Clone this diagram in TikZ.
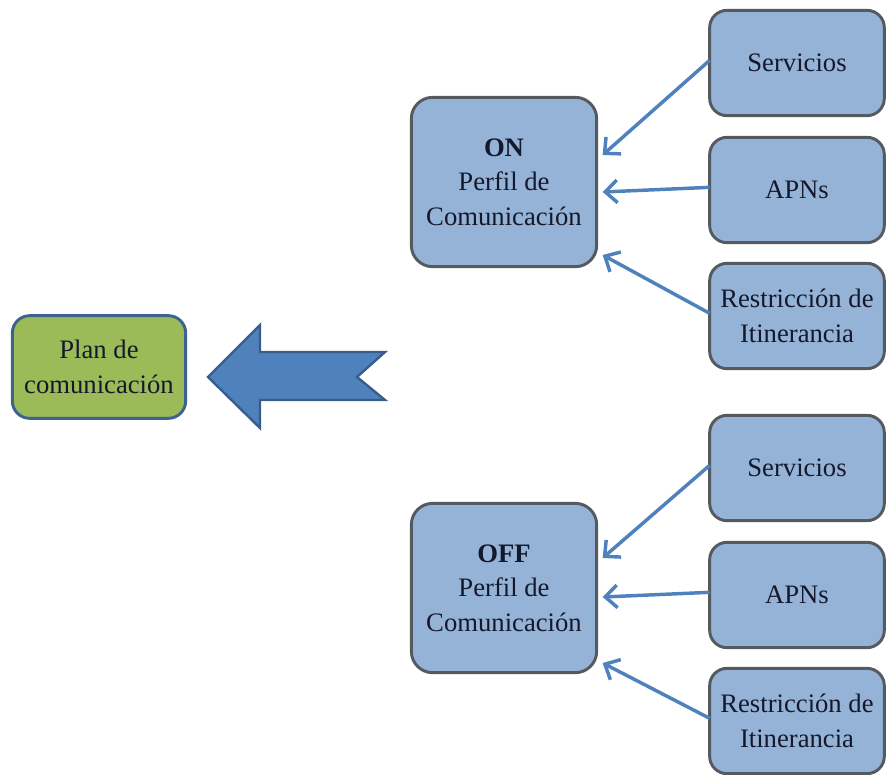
\documentclass[tikz,border=0pt]{standalone}
\usepackage{fontspec}
\setmainfont{Liberation Serif}
\usepackage{tikz}
\usetikzlibrary{arrows.meta}
\usetikzlibrary{positioning}

\definecolor{boxblue}{HTML}{95B3D7}
\definecolor{boxgreen}{HTML}{9BBB59}
\definecolor{arrowblue}{HTML}{4F81BD}
\definecolor{arrowedge}{HTML}{385D8A}
\definecolor{planedge}{HTML}{3F6390}
\definecolor{greyedge}{HTML}{555A60}
\definecolor{textdark}{HTML}{15182A}

\begin{document}
\begin{tikzpicture}
	[x=0.75pt,y=-0.75pt,
	every node/.style={rectangle,rounded corners=13pt,line width=2.2pt,outer sep=0pt,
		align=center,text=textdark,font=\fontsize{20}{26}\selectfont},
	perfil/.style={fill=boxblue,draw=greyedge,minimum width=139pt,minimum height=127pt,rounded corners=16pt},
	item/.style={fill=boxblue,draw=greyedge,minimum width=131pt,minimum height=79pt},
	link/.style={draw=arrowblue,line width=2.6pt,-{Straight Barb[length=9pt,width=17pt,line width=2.6pt]}}]
	\useasboundingbox (0,0) rectangle (886,775);

	\node[style={fill=boxgreen,draw=planedge,minimum width=130pt,minimum height=77pt}] (plan) at (99,367) {Plan de\\comunicación};

	\node[perfil] (on) at (504,182) {\textbf{ON}\\Perfil de\\Comunicación};
	\node[perfil] (off) at (504,588) {\textbf{OFF}\\Perfil de\\Comunicación};

	\node[item] (s1) at (797,63) {Servicios};
	\node[item] (a1) at (797,190) {APNs};
	\node[item] (r1) at (797,316) {Restricción de\\Itinerancia};
	\node[item] (s2) at (797,468) {Servicios};
	\node[item] (a2) at (797,595) {APNs};
	\node[item] (r2) at (797,721) {Restricción de\\Itinerancia};

	\filldraw[fill=arrowblue,draw=arrowedge,line width=1.8pt,line join=miter]
		(208,377) -- (260,325) -- (260,352) -- (385,352) -- (357,377)
		-- (385,400) -- (260,400) -- (260,428) -- cycle;

	\foreach \from/\to/\dy in
	{s1/on/-27, a1/on/10, r1/on/73, s2/off/-30, a2/off/9, r2/off/75}
	\draw[link] ([yshift=2pt]\from.west) -- ([shift={(6,\dy)}]\to.east);
\end{tikzpicture}
\end{document}
